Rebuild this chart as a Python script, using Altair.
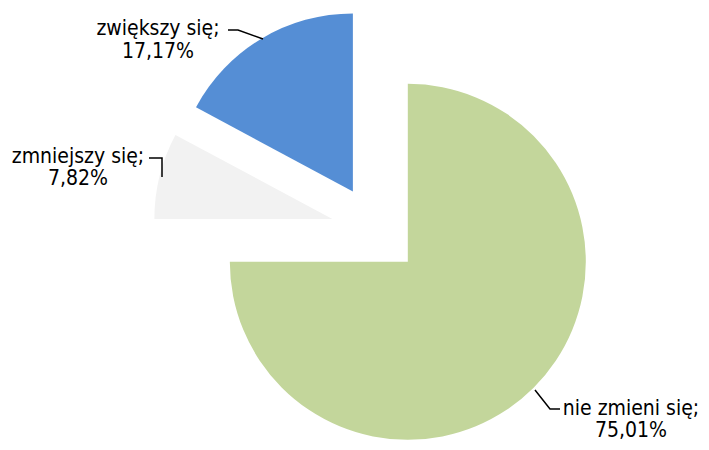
import altair as alt
import pandas as pd

# ---- data ----
categories = ["nie zmieni się", "zmniejszy się", "zwiększy się"]
values = [75.01, 7.82, 17.17]
colors = ["#C3D69B", "#F2F2F2", "#558ED5"]

# ---- layout (chart pixel coordinates) ----
CX, CY, R, EXPLODE = 368, 222, 178, 45
label_pos = {  # centre x, first-line baseline, second-line baseline
    "zwiększy się": (150, 27, 50),
    "zmniejszy się": (70, 155, 177),
    "nie zmieni się": (623, 407, 429),
}
leader_pts = {
    "zwiększy się": [(220, 22), (230, 22), (255, 31)],
    "zmniejszy się": [(141, 150), (154, 150), (154, 169)],
    "nie zmieni się": [(527, 382), (542, 401), (552, 401)],
}

df = pd.DataFrame({"cat": categories, "value": values, "order": range(len(values))})

pie = (
    alt.Chart(df)
    .transform_window(cum="sum(value)", sort=[alt.SortField("order")])
    .transform_joinaggregate(total="sum(value)")
    .transform_calculate(
        t1="datum.cum / datum.total * 2 * PI",
        t0="(datum.cum - datum.value) / datum.total * 2 * PI",
    )
    .transform_calculate(mid="(datum.t0 + datum.t1) / 2")
    .transform_calculate(
        px=f"{CX} + {EXPLODE} * sin(datum.mid)",
        py=f"{CY} - {EXPLODE} * cos(datum.mid)",
    )
    .mark_arc(radius=R, stroke=None)
    .encode(
        theta=alt.Theta("t0:Q", scale=None),
        theta2="t1:Q",
        x=alt.X("px:Q", scale=None),
        y=alt.Y("py:Q", scale=None),
        color=alt.Color("cat:N", scale=alt.Scale(domain=categories, range=colors), legend=None),
    )
)

rows = []
for c, v in zip(categories, values):
    x, y1, y2 = label_pos[c]
    rows.append({"cat": c, "x": x, "y": y1, "t": c + ";"})
    rows.append({"cat": c, "x": x, "y": y2, "t": f"{v:.2f}".replace(".", ",") + "%"})
labels = (
    alt.Chart(pd.DataFrame(rows))
    .mark_text(font="DejaVu Sans Condensed", fontSize=21, color="#000000",
               align="center", baseline="alphabetic")
    .encode(x=alt.X("x:Q", scale=None), y=alt.Y("y:Q", scale=None), text="t:N")
)

lrows = []
for c, pts in leader_pts.items():
    for i, (x, y) in enumerate(pts):
        lrows.append({"cat": c, "i": i, "x": x, "y": y})
leaders = (
    alt.Chart(pd.DataFrame(lrows))
    .mark_line(color="#000000", strokeWidth=1.5)
    .encode(
        x=alt.X("x:Q", scale=None),
        y=alt.Y("y:Q", scale=None),
        detail="cat:N",
        order="i:Q",
    )
)

chart = (
    alt.layer(pie, leaders, labels)
    .properties(width=693, height=434, autosize="none", padding=0)
    .configure_view(stroke=None)
)

chart.save("out.html", embed_options={"renderer": "svg", "actions": False})
